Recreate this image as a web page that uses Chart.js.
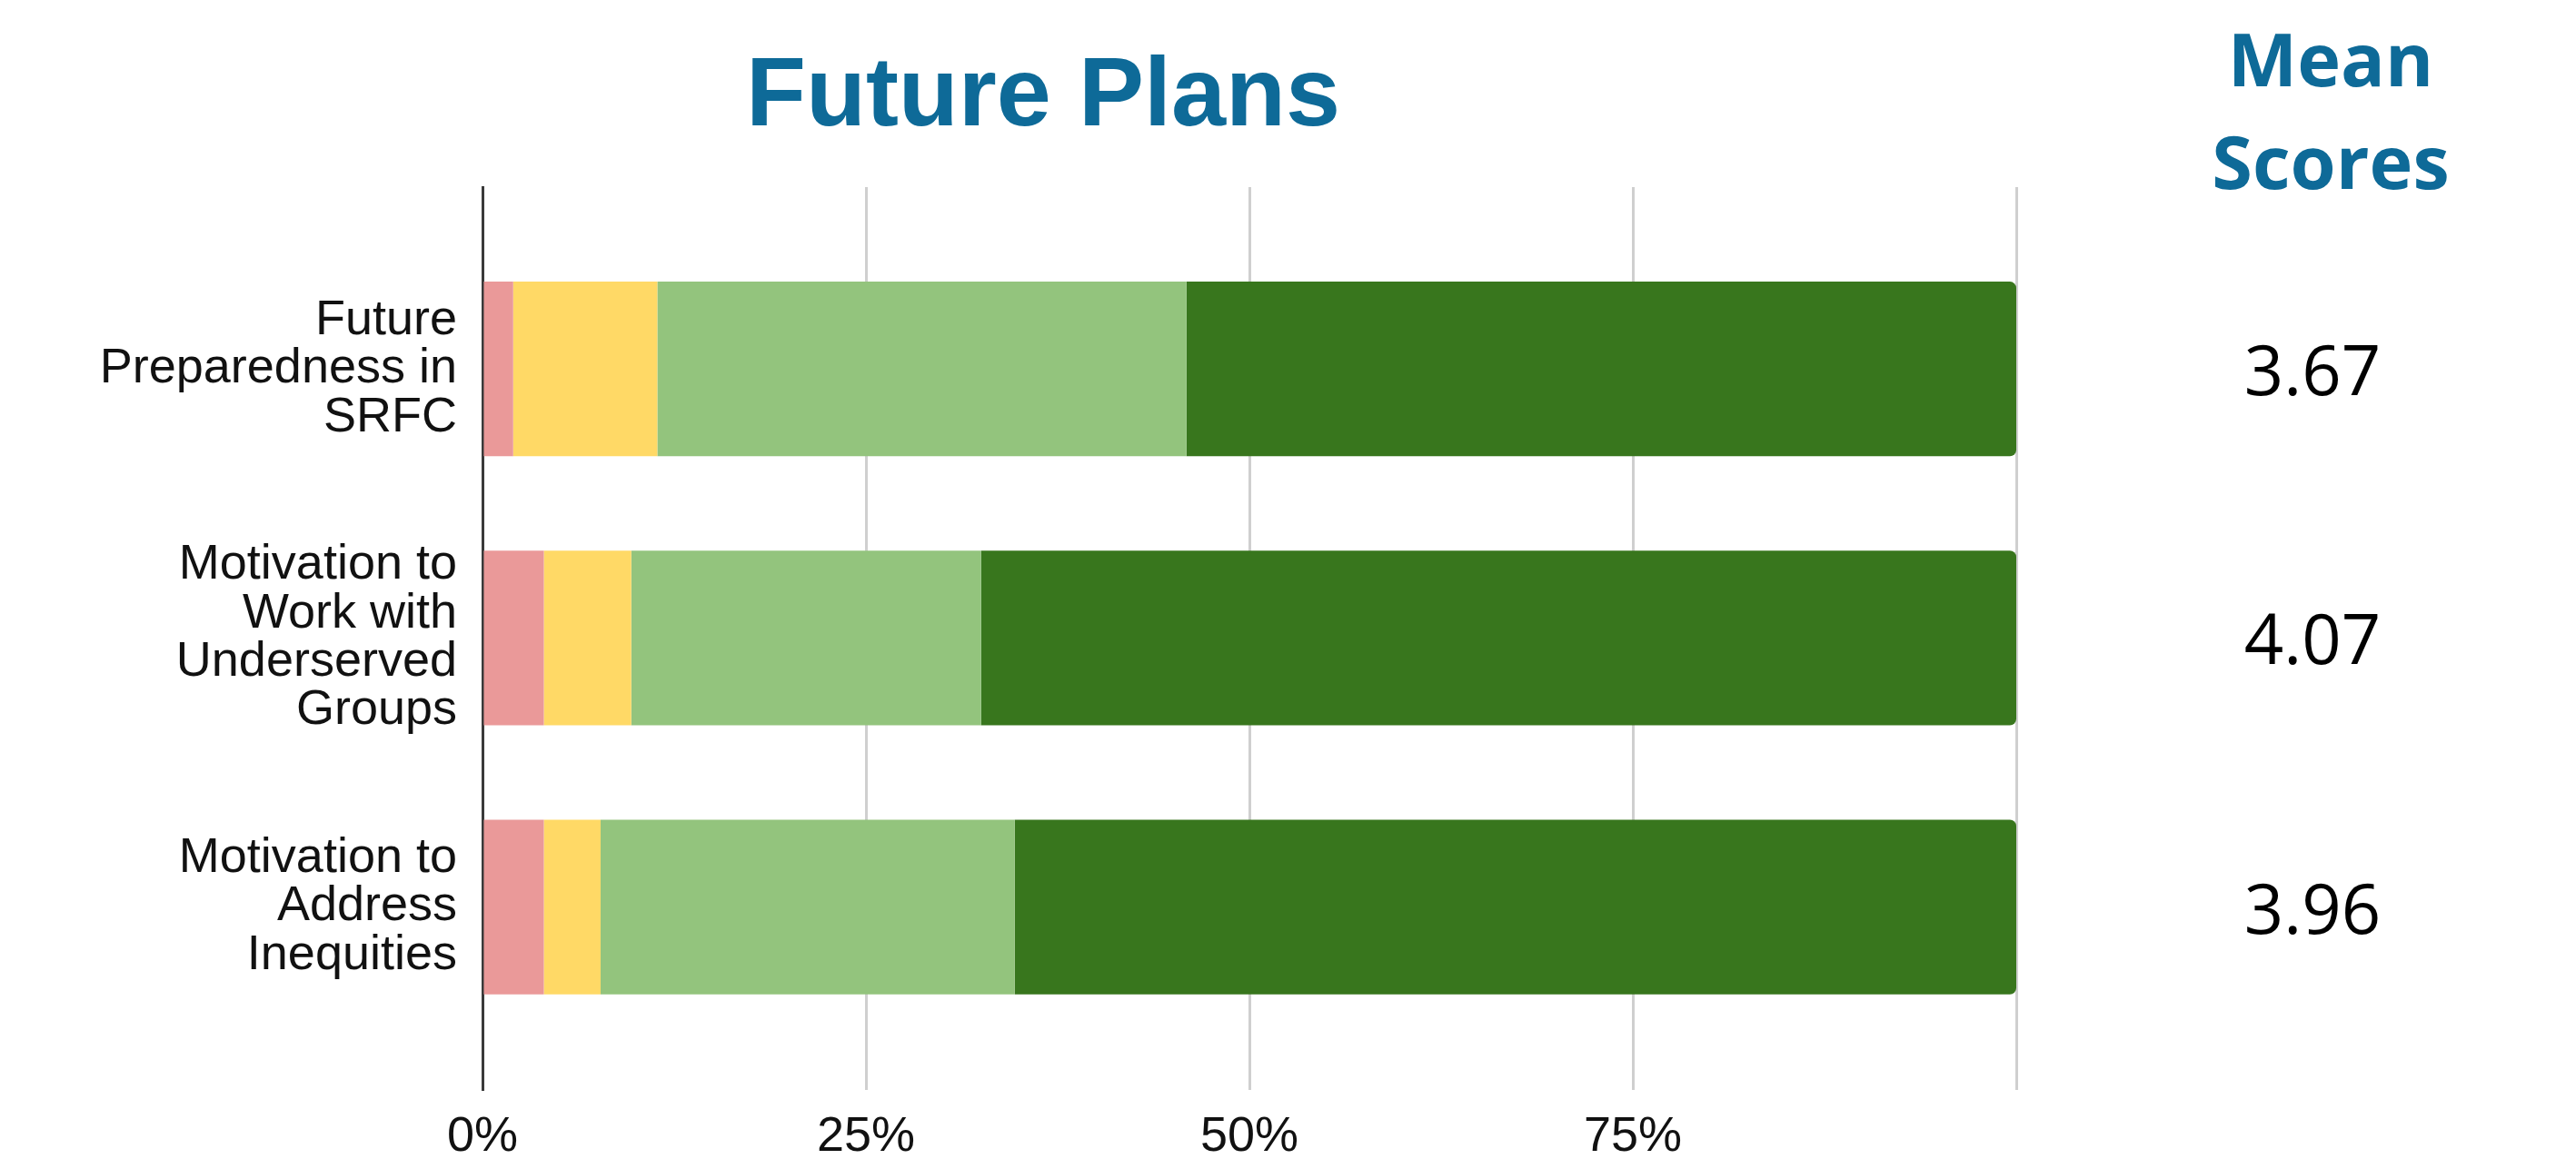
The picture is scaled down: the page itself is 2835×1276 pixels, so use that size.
<!DOCTYPE html>
<html>
<head>
<meta charset="utf-8">
<script src="https://cdn.jsdelivr.net/npm/chart.js@4/dist/chart.umd.min.js"></script>
<style>
  html, body { margin: 0; padding: 0; background: #ffffff; }
  #wrap { position: relative; width: 2835px; height: 1276px; overflow: hidden; }
  #c { position: absolute; left: 0; top: 0; }
  .title { position: absolute; left: 1148px; top: 47px; transform: translateX(-50%);
    font-family: "Liberation Sans", Arial, sans-serif; font-weight: bold; font-size: 108px;
    line-height: 108px; color: #0E6A98; white-space: nowrap; }
  .meanHead { position: absolute; left: 2565px; top: 7px; transform: translateX(-50%);
    font-family: "Open Sans", sans-serif; font-weight: bold; font-size: 81px;
    line-height: 113px; color: #0E6A98; text-align: center; white-space: nowrap; }
</style>
</head>
<body>
<div id="wrap">
  <canvas id="c" width="2835" height="1276"></canvas>
  <div class="title">Future Plans</div>
  <div class="meanHead">Mean<br>Scores</div>
</div>
<script>
// ---- data ----
const categories = [
  ["Future", "Preparedness in", "SRFC"],
  ["Motivation to", "Work with", "Underserved", "Groups"],
  ["Motivation to", "Address", "Inequities"]
];
const seriesNames = ["Level 1", "Level 2", "Level 3", "Level 4"];
const level1 = [2.0, 4.0, 4.0];
const level2 = [9.4, 5.7, 3.7];
const level3 = [34.5, 22.8, 27.0];
const level4 = [54.1, 67.5, 65.3];
const meanScores = ["3.67", "4.07", "3.96"];
const xTicks = [0, 25, 50, 75, 100];
const xTickLabels = ["0%", "25%", "50%", "75%", ""];

const colors = ["#EA9999", "#FFD966", "#93C47D", "#38761D"];
const allSeries = [level1, level2, level3, level4];

const datasets = allSeries.map((vals, k) => ({
  label: seriesNames[k],
  data: vals.map((v, i) => ({ x: v, y: i })),
  backgroundColor: colors[k],
  borderWidth: 0,
  borderRadius: k === 3 ? 7 : 0,
  barPercentage: 0.649,
  categoryPercentage: 1.0
}));

const meanPlugin = {
  id: 'meanScores',
  afterDraw(chart) {
    const ctx = chart.ctx;
    const ys = chart.scales.y;
    ctx.save();
    ctx.font = '76px "Open Sans", sans-serif';
    ctx.fillStyle = '#000000';
    ctx.textAlign = 'center';
    ctx.textBaseline = 'alphabetic';
    meanScores.forEach((m, i) => {
      ctx.fillText(m, 2545, ys.getPixelForValue(i) + 29);
    });
    ctx.restore();
  }
};

new Chart(document.getElementById('c'), {
  type: 'bar',
  data: { datasets },
  plugins: [meanPlugin],
  options: {
    indexAxis: 'y',
    responsive: false,
    animation: false,
    events: [],
    layout: { padding: { left: 0, right: 616, top: 206, bottom: 0 } },
    plugins: { legend: { display: false }, title: { display: false }, tooltip: { enabled: false } },
    scales: {
      x: {
        type: 'linear',
        stacked: true,
        min: 0, max: 100,
        afterBuildTicks: (s) => { s.ticks = xTicks.map(v => ({ value: v })); },
        afterFit: (s) => { s.height = 76; s.paddingLeft = 0; s.paddingRight = 0; },
        ticks: {
          callback: (v) => xTickLabels[xTicks.indexOf(v)],
          font: { family: '"Liberation Sans", Arial, sans-serif', size: 54 },
          color: '#111111',
          padding: 20,
          maxRotation: 0
        },
        grid: { color: '#CFCFCF', lineWidth: 3, drawTicks: false },
        border: { display: false }
      },
      y: {
        type: 'linear',
        stacked: true,
        reverse: true,
        offset: false,
        min: -0.676, max: 2.68,
        afterBuildTicks: (s) => { s.ticks = categories.map((c, i) => ({ value: i })); },
        afterFit: (s) => { s.width = 531; s.paddingTop = 0; s.paddingBottom = 0; },
        ticks: {
          callback: (v) => categories[v],
          font: { family: '"Liberation Sans", Arial, sans-serif', size: 54, lineHeight: 0.99 },
          color: '#111111',
          padding: 28,
          autoSkip: false
        },
        grid: { display: false, drawTicks: false, offset: false },
        border: { display: true, color: '#3a3a3a', width: 3 }
      }
    }
  }
});
</script>
</body>
</html>
